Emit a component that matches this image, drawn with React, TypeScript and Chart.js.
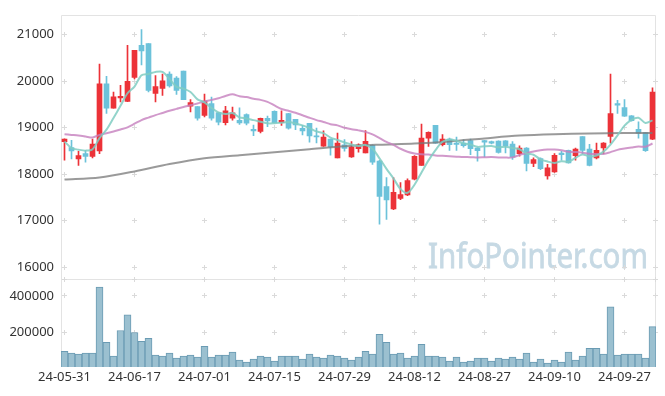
import React, { useEffect, useRef } from 'react';
import { Chart, registerables } from 'chart.js';

Chart.register(...registerables);

const DATES = [
  '24-05-31',
  '24-06-03', '24-06-04', '24-06-05', '24-06-07',
  '24-06-10', '24-06-11', '24-06-12', '24-06-13', '24-06-14',
  '24-06-17', '24-06-18', '24-06-19', '24-06-20', '24-06-21',
  '24-06-24', '24-06-25', '24-06-26', '24-06-27', '24-06-28',
  '24-07-01', '24-07-02', '24-07-03', '24-07-04', '24-07-05',
  '24-07-08', '24-07-09', '24-07-10', '24-07-11', '24-07-12',
  '24-07-15', '24-07-16', '24-07-17', '24-07-18', '24-07-19',
  '24-07-22', '24-07-23', '24-07-24', '24-07-25', '24-07-26',
  '24-07-29', '24-07-30', '24-07-31', '24-08-01', '24-08-02',
  '24-08-05', '24-08-06', '24-08-07', '24-08-08', '24-08-09',
  '24-08-12', '24-08-13', '24-08-14', '24-08-16',
  '24-08-19', '24-08-20', '24-08-21', '24-08-22', '24-08-23',
  '24-08-26', '24-08-27', '24-08-28', '24-08-29', '24-08-30',
  '24-09-02', '24-09-03', '24-09-04', '24-09-05', '24-09-06',
  '24-09-09', '24-09-10', '24-09-11', '24-09-12', '24-09-13',
  '24-09-19', '24-09-20',
  '24-09-23', '24-09-24', '24-09-25', '24-09-26', '24-09-27',
  '24-09-30', '24-10-02', '24-10-04', '24-10-07',
];

const X_TICK_LABELS = ['24-05-31', '24-06-17', '24-07-01', '24-07-15', '24-07-29', '24-08-12', '24-08-27', '24-09-10', '24-09-27'];
const PRICE_TICKS = [16000, 17000, 18000, 19000, 20000, 21000];
const VOLUME_TICKS = [200000, 400000];

const OPEN = [
  18698, 18570, 18330, 18443, 18380, 18500, 19941, 19418, 19637, 19566,
  20082, 20767, 20809, 19736, 19842, 20153, 20068, 20216, 19460, 19453,
  19263, 19517, 19326, 19110, 19205, 19160, 19280, 18966, 18922, 19199,
  19350, 19107, 19305, 19178, 18985, 19093, 18825, 18605, 18754, 18352,
  18634, 18372, 18549, 18458, 18620, 18281, 17737, 17256, 17482, 17553,
  17892, 18188, 18775, 19050, 18634, 18754, 18669, 18669, 18725, 18563,
  18725, 18704, 18711, 18718, 18648, 18443, 18563, 18231, 18337, 17963,
  18047, 18457, 18514, 18400, 18810, 18542, 18351, 18563, 18810, 19516,
  19432, 19255, 18966, 18895, 18754,
];
const HIGH = [
  18760, 18726, 18493, 18514, 18754, 20364, 20103, 19764, 19912, 20767,
  20661, 21106, 20809, 20117, 20153, 20202, 20100, 20216, 19602, 19453,
  19722, 19660, 19326, 19460, 19445, 19424, 19300, 19058, 19205, 19249,
  19360, 19362, 19310, 19178, 19050, 19093, 18990, 18935, 18754, 18885,
  18745, 18700, 18655, 18938, 18634, 18300, 17927, 17927, 17822, 17900,
  18400, 19080, 18910, 19050, 18850, 18775, 18796, 18740, 18754, 18570,
  18730, 18710, 18720, 18725, 18704, 18612, 18570, 18351, 18350, 18210,
  18443, 18492, 18520, 18563, 18810, 18641, 18669, 18680, 20152, 19587,
  19601, 19260, 19128, 18900, 19856,
];
const LOW = [
  18302, 18330, 18189, 18260, 18352, 18443, 19305, 19418, 19552, 19560,
  20047, 20350, 19770, 19552, 19693, 19870, 19715, 19602, 19340, 19164,
  19230, 19163, 19057, 19057, 19164, 19072, 19058, 18828, 18885, 19023,
  19100, 19050, 18970, 18955, 18846, 18690, 18670, 18600, 18410, 18352,
  18493, 18360, 18472, 18458, 18210, 16925, 17031, 17240, 17455, 17540,
  17880, 18188, 18599, 18660, 18610, 18514, 18514, 18580, 18422, 18280,
  18372, 18650, 18450, 18457, 18316, 18386, 18069, 18160, 18100, 17892,
  18040, 18302, 18240, 18302, 18443, 18180, 18330, 18443, 18669, 19305,
  19240, 19140, 18775, 18490, 18740,
];
const CLOSE = [
  18754, 18500, 18401, 18380, 18648, 19941, 19418, 19665, 19672, 19997,
  20661, 20647, 19799, 19884, 20004, 19898, 19799, 19602, 19538, 19206,
  19573, 19205, 19120, 19362, 19320, 19100, 19095, 18931, 19199, 19145,
  19107, 19160, 18987, 19058, 18931, 18825, 18800, 18797, 18585, 18670,
  18556, 18585, 18634, 18705, 18260, 17525, 17447, 17610, 17561, 17864,
  18387, 18775, 18902, 18665, 18754, 18634, 18641, 18612, 18549, 18506,
  18690, 18669, 18471, 18610, 18372, 18563, 18231, 18316, 18118, 18139,
  18408, 18422, 18245, 18542, 18514, 18189, 18514, 18669, 19305, 19481,
  19248, 19149, 18881, 18506, 19764,
];
const VOLUME = [
  97300, 86500, 81000, 86500, 86500, 448600, 145900, 70300, 210800, 297300,
  200000, 151300, 167600, 75700, 70300, 86500, 59500, 70300, 75700, 64900,
  124300, 64900, 75700, 75700, 91900, 48600, 37800, 54000, 70300, 64900,
  43200, 70300, 70300, 70300, 54000, 81000, 64900, 59500, 75700, 70300,
  59500, 48600, 64900, 97300, 81000, 189200, 145900, 81000, 86500, 59500,
  70300, 135100, 70300, 70300, 64900, 43200, 64900, 37800, 43200, 59500,
  59500, 43200, 59500, 54000, 64900, 54000, 86500, 37800, 54000, 32400,
  48600, 37800, 91900, 48600, 70300, 113500, 113500, 81000, 340500, 75700,
  81000, 81000, 81000, 59500, 232400,
];
const MA_SHORT = [
  18705, 18563, 18528, 18507, 18537, 18774, 18958, 19210, 19469, 19739,
  19883, 20128, 20155, 20198, 20199, 20046, 19877, 19837, 19768, 19609,
  19544, 19425, 19328, 19293, 19316, 19221, 19199, 19162, 19129, 19094,
  19095, 19108, 19120, 19091, 19049, 18992, 18920, 18882, 18788, 18735,
  18682, 18639, 18606, 18630, 18548, 18342, 18114, 17909, 17681, 17601,
  17774, 18039, 18298, 18519, 18697, 18746, 18719, 18661, 18638, 18588,
  18600, 18605, 18577, 18589, 18562, 18537, 18449, 18418, 18320, 18273,
  18242, 18281, 18266, 18351, 18426, 18382, 18401, 18486, 18638, 18832,
  19043, 19170, 19213, 19101, 19158,
];
const MA_MID = [
  18860, 18845, 18830, 18810, 18789, 18846, 18880, 18917, 18960, 19008,
  19085, 19164, 19217, 19270, 19316, 19362, 19404, 19446, 19482, 19521,
  19562, 19597, 19633, 19682, 19716, 19674, 19657, 19621, 19597, 19554,
  19477, 19402, 19362, 19320, 19267, 19213, 19163, 19123, 19075, 19049,
  18998, 18967, 18942, 18910, 18857, 18778, 18695, 18629, 18547, 18483,
  18447, 18428, 18424, 18404, 18395, 18386, 18378, 18369, 18367, 18359,
  18365, 18370, 18361, 18357, 18362, 18414, 18453, 18489, 18516, 18530,
  18531, 18514, 18481, 18475, 18463, 18440, 18434, 18437, 18475, 18523,
  18551, 18575, 18596, 18591, 18660,
];
// long moving average, read at the listed candle indices
const MA_LONG_INDEX = [0, 5, 10, 15, 20, 25, 30, 35, 40, 45, 50, 55, 60, 65, 70, 75, 80, 84];
const MA_LONG_VALUE = [17885, 17930, 18060, 18220, 18345, 18410, 18470, 18535, 18600, 18635, 18660, 18705, 18770, 18830, 18860, 18875, 18885, 18888];

const WATERMARK = 'InfoPointer.com';

const RED = '#ec3238';
const BLUE = '#6cc2da';
const FONT = { family: '"Noto Sans", sans-serif', size: 13 };

const decorPlugin = {
  id: 'decor',
  beforeDatasetsDraw(chart: any) {
    const { ctx, chartArea: ca, scales } = chart;
    const xs = scales.x;
    const ys = scales.y;
    const yv = scales.yv;

    // watermark
    ctx.save();
    ctx.font = '34px "Noto Sans"';
    const w = ctx.measureText(WATERMARK).width;
    ctx.translate(ca.right - 8, ys.bottom - 11);
    ctx.scale(220 / w, 1);
    ctx.fillStyle = '#c6d9e4';
    ctx.strokeStyle = '#c6d9e4';
    ctx.lineWidth = 0.8;
    ctx.textAlign = 'right';
    ctx.textBaseline = 'alphabetic';
    ctx.fillText(WATERMARK, 0, 0);
    ctx.strokeText(WATERMARK, 0, 0);
    ctx.restore();

    // frame
    ctx.save();
    ctx.strokeStyle = '#e3e3e3';
    ctx.lineWidth = 1;
    const L = Math.round(ca.left) + 0.5;
    const R = Math.round(ca.right) - 0.5;
    const T = Math.round(ca.top) + 0.5;
    const M = Math.round(ys.bottom) + 0.5;
    const B = Math.round(ca.bottom);
    ctx.beginPath();
    ctx.moveTo(L, T); ctx.lineTo(R, T);
    ctx.moveTo(L, M); ctx.lineTo(R, M);
    ctx.moveTo(L, T); ctx.lineTo(L, B);
    ctx.moveTo(R, T); ctx.lineTo(R, B);
    ctx.stroke();

    // grid crosses
    ctx.fillStyle = '#dadada';
    const xPix: number[] = [];
    DATES.forEach((d, i) => {
      if (X_TICK_LABELS.includes(d)) xPix.push(Math.floor(xs.getPixelForValue(i)));
    });
    xPix.push(Math.round(ca.right) - 1);
    const yPix: number[] = [
      ...PRICE_TICKS.map((v) => Math.floor(ys.getPixelForValue(v))),
      ...VOLUME_TICKS.map((v) => Math.floor(yv.getPixelForValue(v))),
      Math.round(ys.bottom),
    ];
    for (const cx of xPix) {
      for (const cy of yPix) {
        ctx.fillRect(cx - 2, cy, 5, 1);
        ctx.fillRect(cx, cy - 2, 1, 5);
      }
    }
    ctx.restore();
  },
};

export default function App() {
  const ref = useRef<HTMLCanvasElement>(null);

  useEffect(() => {
    document.body.style.margin = '0';
    const colors = DATES.map((_, i) => (CLOSE[i] >= OPEN[i] ? RED : BLUE));
    const bodies = DATES.map((_, i) => [OPEN[i], CLOSE[i]]);
    const wicks = DATES.map((_, i) => [LOW[i], HIGH[i]]);
    const maLong: (number | null)[] = DATES.map(() => null);
    MA_LONG_INDEX.forEach((idx, k) => { maLong[idx] = MA_LONG_VALUE[k]; });

    const chart = new Chart(ref.current as HTMLCanvasElement, {
      type: 'bar',
      data: {
        labels: DATES,
        datasets: [
          {
            type: 'line', data: MA_SHORT, yAxisID: 'y', order: 0,
            borderColor: 'rgba(128,204,194,0.85)', borderWidth: 2, pointRadius: 0, tension: 0.3,
          } as any,
          {
            type: 'line', data: MA_MID, yAxisID: 'y', order: 0,
            borderColor: 'rgba(198,128,190,0.8)', borderWidth: 2, pointRadius: 0, tension: 0.3,
          } as any,
          {
            type: 'line', data: maLong, yAxisID: 'y', order: 0, spanGaps: true,
            borderColor: 'rgba(120,120,120,0.75)', borderWidth: 2, pointRadius: 0, tension: 0.3,
          } as any,
          {
            type: 'bar', data: bodies, yAxisID: 'y', order: 1, grouped: false,
            backgroundColor: colors, barThickness: 5, minBarLength: 1, borderWidth: 0,
          } as any,
          {
            type: 'bar', data: wicks, yAxisID: 'y', order: 2, grouped: false,
            backgroundColor: colors, barThickness: 1, borderWidth: 0,
          } as any,
          {
            type: 'bar', data: VOLUME, yAxisID: 'yv', order: 3, grouped: false,
            backgroundColor: '#9bc0d0', borderColor: '#6a9bb3', borderWidth: 1,
            barPercentage: 1, categoryPercentage: 1,
          } as any,
        ],
      },
      options: {
        animation: false,
        responsive: false,
        devicePixelRatio: 1,
        layout: { padding: { top: 10, right: 9, left: 0, bottom: 0 } },
        plugins: { legend: { display: false }, tooltip: { enabled: false } },
        scales: {
          x: {
            type: 'category', offset: true,
            grid: { display: false, drawTicks: false }, border: { display: false },
            ticks: {
              autoSkip: false, maxRotation: 0, minRotation: 0, padding: 2, color: '#333', font: FONT,
              callback: (_v: any, i: number) => (X_TICK_LABELS.includes(DATES[i]) ? DATES[i] : ''),
            },
            afterFit: (s: any) => { s.height = 29; },
          },
          yv: {
            type: 'linear', position: 'left', stack: 'panes', stackWeight: 89,
            min: 10800, max: 491900,
            grid: { display: false, drawTicks: false }, border: { display: false },
            ticks: { padding: 7, color: '#333', font: FONT, callback: (v: any) => String(v) },
            afterBuildTicks: (s: any) => { s.ticks = VOLUME_TICKS.map((v) => ({ value: v })); },
            afterFit: (s: any) => { s.width = 61; },
          },
          y: {
            type: 'linear', position: 'left', stack: 'panes', stackWeight: 268,
            min: 15745, max: 21425,
            grid: { display: false, drawTicks: false }, border: { display: false },
            ticks: { padding: 7, color: '#333', font: FONT, callback: (v: any) => String(v) },
            afterBuildTicks: (s: any) => { s.ticks = PRICE_TICKS.map((v) => ({ value: v })); },
            afterFit: (s: any) => { s.width = 61; },
          },
        },
      } as any,
      plugins: [decorPlugin],
    });
    return () => chart.destroy();
  }, []);

  return (
    <div style={{ width: 665, height: 396 }}>
      <canvas ref={ref} width={665} height={396} style={{ display: 'block' }} />
    </div>
  );
}
